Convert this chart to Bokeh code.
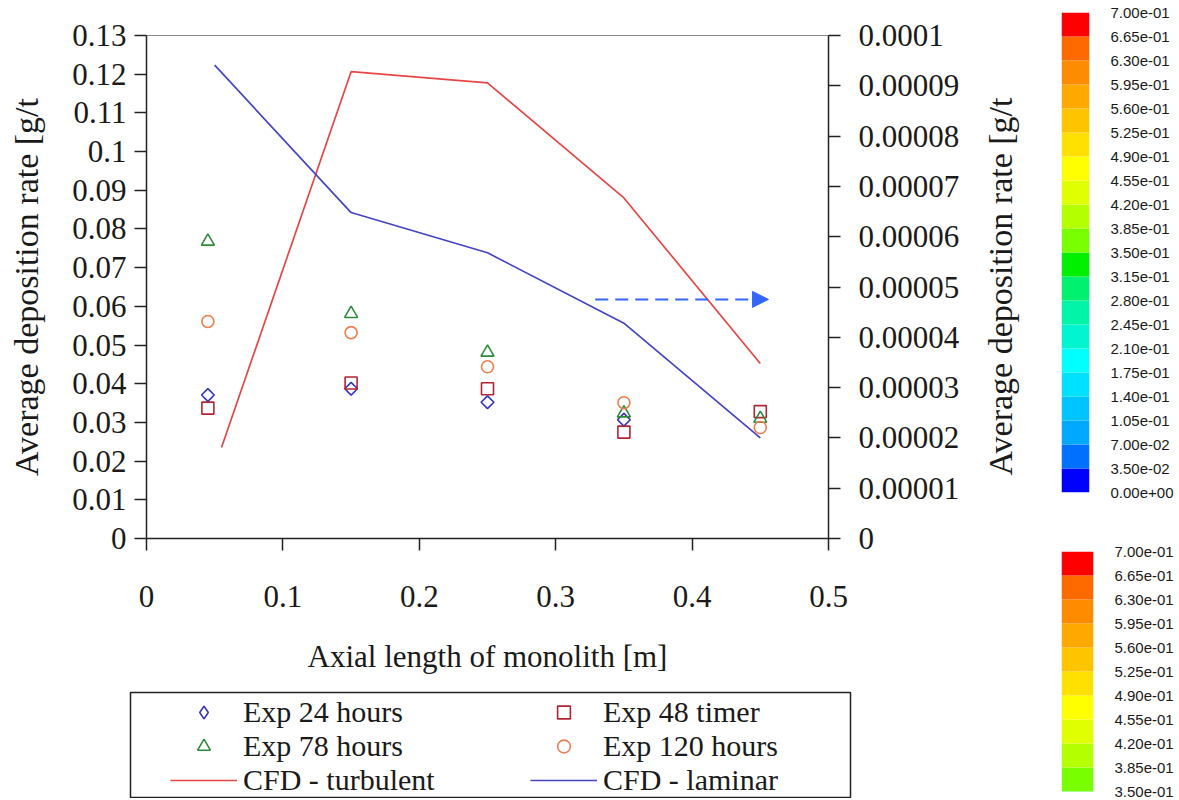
import math
from bokeh.plotting import figure
from bokeh.models import (Range1d, LinearAxis, FixedTicker, CustomJSTickFormatter,
                          Legend, LegendItem, Arrow, NormalHead, ColumnDataSource, Label)
from bokeh.layouts import row, column
from bokeh.embed import file_html
from bokeh.resources import INLINE

# ---------------- data ----------------
exp24_x = [0.045, 0.15, 0.25, 0.35]
exp24_y = [0.0371, 0.0387, 0.0352, 0.0307]
exp48_x = [0.045, 0.15, 0.25, 0.35, 0.45]
exp48_y = [0.0337, 0.0402, 0.0387, 0.0275, 0.0328]
exp78_x = [0.045, 0.15, 0.25, 0.35, 0.45]
exp78_y = [0.0768, 0.0581, 0.0481, 0.0324, 0.0310]
exp120_x = [0.045, 0.15, 0.25, 0.35, 0.45]
exp120_y = [0.0561, 0.0532, 0.0444, 0.0351, 0.0287]

turb_x = [0.055, 0.15, 0.25, 0.35, 0.45]
turb_y = [0.0000181, 0.0000928, 0.0000906, 0.0000677, 0.0000348]
lam_x = [0.05, 0.15, 0.25, 0.35, 0.45]
lam_y = [0.0000941, 0.0000648, 0.0000568, 0.0000428, 0.0000200]

arrow_x = [0.329, 0.456]
arrow_y = 0.0618

x_ticks = [0, 0.1, 0.2, 0.3, 0.4, 0.5]
left_ticks = [0, 0.01, 0.02, 0.03, 0.04, 0.05, 0.06, 0.07, 0.08, 0.09, 0.1, 0.11, 0.12, 0.13]
right_ticks = [0, 0.00001, 0.00002, 0.00003, 0.00004, 0.00005, 0.00006, 0.00007, 0.00008, 0.00009, 0.0001]

cbar_levels = [0.0, 0.035, 0.07, 0.105, 0.14, 0.175, 0.21, 0.245, 0.28, 0.315, 0.35,
               0.385, 0.42, 0.455, 0.49, 0.525, 0.56, 0.595, 0.63, 0.665, 0.7]
cbar_colors = ["#0000ff", "#0070ff", "#00a8ff", "#00c4ff", "#00e0ff",
               "#00ffff", "#00f5d0", "#00f5a8", "#00f070", "#00f000",
               "#78ff00", "#b4ff00", "#e0ff00", "#ffff00", "#ffe000",
               "#ffc400", "#ffa800", "#ff8c00", "#ff6a00", "#ff0000"]

y_title = "Average deposition rate [g/t"
x_title = "Axial length of monolith [m]"

SERIF = "Liberation Serif"
TXT = "#1a1a1a"

num_fmt = CustomJSTickFormatter(code="return String(parseFloat(tick.toPrecision(6)));")

# ---------------- main figure ----------------
p = figure(width=980, height=690, output_backend="svg", toolbar_location=None,
           x_range=Range1d(0, 0.5), y_range=Range1d(0, 0.13),
           x_axis_location=None, y_axis_location=None,
           min_border_left=146, min_border_right=152, min_border_top=35, min_border_bottom=152)
p.frame_align = False
p.extra_y_ranges = {"right": Range1d(0, 0.0001)}
p.grid.visible = False
p.outline_line_color = "#8a8a8a"
p.outline_line_width = 1
p.background_fill_color = "white"
p.border_fill_color = "white"


def style_axis(ax, standoff, title_standoff, title_size):
    ax.axis_line_color = "#222222"
    ax.axis_line_width = 1.5
    ax.major_tick_line_color = "#222222"
    ax.major_tick_line_width = 1.5
    ax.major_tick_out = 12
    ax.major_tick_in = 0
    ax.minor_tick_line_color = None
    ax.major_label_text_font = SERIF
    ax.major_label_text_font_size = "31px"
    ax.major_label_text_color = TXT
    ax.major_label_standoff = standoff
    ax.axis_label_text_font = SERIF
    ax.axis_label_text_font_size = title_size
    ax.axis_label_text_font_style = "normal"
    ax.axis_label_text_color = TXT
    ax.axis_label_standoff = title_standoff
    ax.formatter = num_fmt


xa = LinearAxis(axis_label=x_title, ticker=FixedTicker(ticks=x_ticks))
style_axis(xa, 35, 29, "31px")
p.add_layout(xa, "below")

ya = LinearAxis(axis_label=y_title, ticker=FixedTicker(ticks=left_ticks))
style_axis(ya, 8, 24, "34px")
p.add_layout(ya, "left")

ya2 = LinearAxis(y_range_name="right", ticker=FixedTicker(ticks=right_ticks))
style_axis(ya2, 18, 30, "34px")
p.add_layout(ya2, "right")

C24, C48, C78, C120 = "#3434c4", "#b02434", "#2e8b3c", "#ee7e50"
CTURB, CLAM = "#e64646", "#4444c4"

p.line(turb_x, turb_y, y_range_name="right", line_color=CTURB, line_width=1.7)
p.line(lam_x, lam_y, y_range_name="right", line_color=CLAM, line_width=1.7)

p.scatter(exp24_x, exp24_y, marker="square", angle=math.pi / 4, size=9, fill_color=None,
          line_color=C24, line_width=1.6)
p.scatter(exp48_x, exp48_y, marker="square", size=12, fill_color=None, line_color=C48, line_width=1.6)
p.scatter(exp78_x, exp78_y, marker="triangle", size=13, fill_color=None, line_color=C78, line_width=1.6)
p.scatter(exp120_x, exp120_y, marker="circle", size=12, fill_color=None, line_color=C120, line_width=1.6)

p.add_layout(Arrow(x_start=arrow_x[0], y_start=arrow_y, x_end=arrow_x[1], y_end=arrow_y,
                   line_color="#3366ff", line_width=2, line_dash="13 7",
                   end=NormalHead(size=16, fill_color="#3366ff", line_color="#3366ff")))

# ---------------- right-hand axis title (own narrow panel) ----------------
tf = figure(width=68, height=690, output_backend="svg", toolbar_location=None,
            x_range=Range1d(0, 68), y_range=Range1d(0, 690),
            x_axis_location=None, y_axis_location=None,
            min_border_left=0, min_border_right=0, min_border_top=0, min_border_bottom=0)
tf.frame_align = False
tf.grid.visible = False
tf.outline_line_color = None
tf.add_layout(Label(x=20, y=404, text=y_title, angle=math.pi / 2,
                    text_align="center", text_baseline="middle",
                    text_font=SERIF, text_font_size="34px", text_color=TXT))

# ---------------- legend figure ----------------
lf = figure(width=1048, height=108, output_backend="svg", toolbar_location=None,
            x_range=Range1d(0, 1), y_range=Range1d(0, 1),
            x_axis_location=None, y_axis_location=None,
            min_border_left=130, min_border_right=198, min_border_top=2, min_border_bottom=1)
lf.frame_align = False
lf.grid.visible = False
lf.outline_line_color = "#222222"
lf.outline_line_width = 1.5
off = dict(x=[-5], y=[-5])
r24 = lf.scatter("x", "y", source=ColumnDataSource(off), marker="diamond",
                 size=13, fill_color=None, line_color=C24, line_width=1.6)
r48 = lf.scatter("x", "y", source=ColumnDataSource(off), marker="square", size=12,
                 fill_color=None, line_color=C48, line_width=1.6)
r78 = lf.scatter("x", "y", source=ColumnDataSource(off), marker="triangle", size=13,
                 fill_color=None, line_color=C78, line_width=1.6)
r120 = lf.scatter("x", "y", source=ColumnDataSource(off), marker="circle", size=12,
                  fill_color=None, line_color=C120, line_width=1.6)
rt = lf.line("x", "y", source=ColumnDataSource(dict(x=[-5, -4], y=[-5, -5])),
             line_color=CTURB, line_width=1.7)
rl = lf.line("x", "y", source=ColumnDataSource(dict(x=[-5, -4], y=[-5, -5])),
             line_color=CLAM, line_width=1.7)

legend = Legend(items=[
    LegendItem(label="Exp 24 hours", renderers=[r24]),
    LegendItem(label="Exp 78 hours", renderers=[r78]),
    LegendItem(label="CFD - turbulent", renderers=[rt]),
    LegendItem(label="Exp 48 timer", renderers=[r48]),
    LegendItem(label="Exp 120 hours", renderers=[r120]),
    LegendItem(label="CFD - laminar", renderers=[rl]),
], ncols=2, orientation="vertical", location=(40, 0))
legend.border_line_alpha = 0
legend.background_fill_alpha = 0
legend.padding = 0
legend.margin = 0
legend.spacing = 0
legend.glyph_width = 67
legend.glyph_height = 32
legend.label_standoff = 6
legend.label_width = 287
legend.label_height = 32
legend.label_text_font = SERIF
legend.label_text_font_size = "30px"
legend.label_text_color = TXT
lf.add_layout(legend, "center")


# ---------------- colour bars ----------------
def cbar_fig(height, top_border, bottom_border, y_lo):
    f = figure(width=128, height=height, output_backend="svg", toolbar_location=None,
               x_range=Range1d(0, 1), y_range=Range1d(y_lo, 0.7),
               x_axis_location=None, y_axis_location=None,
               min_border_left=13, min_border_right=83,
               min_border_top=top_border, min_border_bottom=bottom_border)
    f.frame_align = False
    f.grid.visible = False
    f.outline_line_color = None
    f.quad(left=0, right=1, bottom=cbar_levels[:-1], top=cbar_levels[1:],
           fill_color=cbar_colors, line_color=None)
    ax = LinearAxis(ticker=FixedTicker(ticks=cbar_levels),
                    formatter=CustomJSTickFormatter(code="""
                        const s = tick.toExponential(2).split('e');
                        let e = s[1]; const sign = e[0]; let d = e.slice(1);
                        if (d.length < 2) d = '0' + d;
                        return s[0] + 'e' + sign + d;"""))
    ax.axis_line_color = None
    ax.major_tick_line_color = None
    ax.minor_tick_line_color = None
    ax.major_label_standoff = 15
    ax.major_label_text_font = "Liberation Sans"
    ax.major_label_text_font_size = "15px"
    ax.major_label_text_color = TXT
    f.add_layout(ax, "right")
    return f


cb1 = cbar_fig(538, 12, 46, 0.0)
cb2 = cbar_fig(260, 13, 7, 0.35)

layout = row(column(row(p, tf), lf), column(cb1, cb2))

open("out.html", "w").write(file_html(layout, INLINE))
